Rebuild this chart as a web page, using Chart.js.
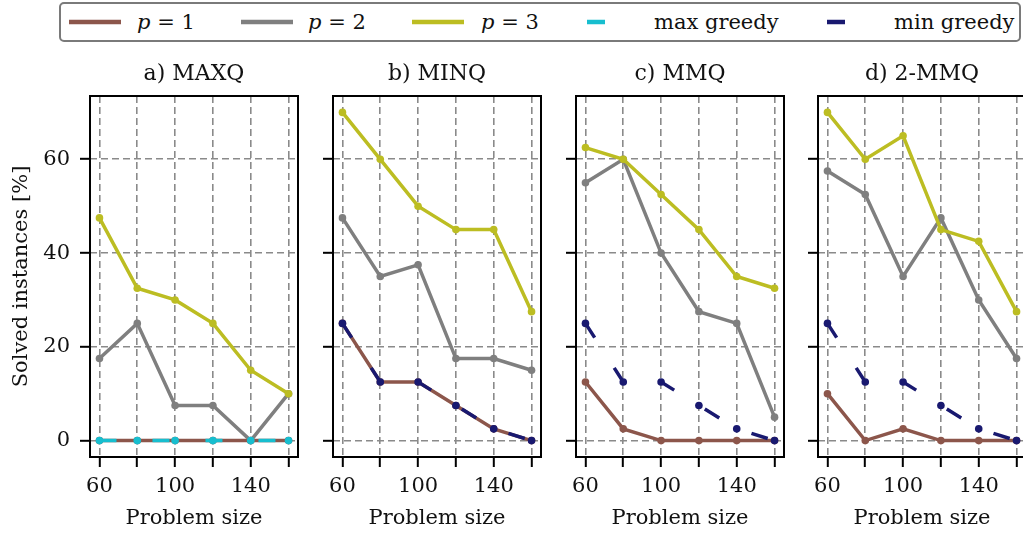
<!DOCTYPE html>
<html>
<head>
<meta charset="utf-8">
<script src="https://cdn.jsdelivr.net/npm/chart.js@4.4.1/dist/chart.umd.min.js"></script>
<style>
  html, body { margin: 0; padding: 0; background: #fff; }
  body { position: relative; width: 1023px; height: 537px; overflow: hidden; font-family: "DejaVu Serif", serif; }
  canvas { position: absolute; top: 50px; }
  #legend { position: absolute; left: 59px; top: 2px; width: 958px; height: 36px; border: 2px solid #7a7a7a; border-radius: 5px; }
  .lg-line { position: absolute; top: 0; }
  .lg-text { position: absolute; top: 6px; font-size: 21px; line-height: 24px; color: #111; white-space: nowrap; }
</style>
</head>
<body>
<div id="legend"></div>
<canvas id="c0" width="388" height="487" style="left:0px"></canvas>
<canvas id="c1" width="248" height="487" style="left:313px"></canvas>
<canvas id="c2" width="248" height="487" style="left:556px"></canvas>
<canvas id="c3" width="248" height="487" style="left:798px"></canvas>
<script>
const sizes = [60, 80, 100, 120, 140, 160];
const xLabelTicks = [60, 100, 140];
const yTicks = [0, 20, 40, 60];
const panelTitles = ['a) MAXQ', 'b) MINQ', 'c) MMQ', 'd) 2-MMQ'];

// a) MAXQ
const maxqP1 = [0, 0, 0, 0, 0, 0];
const maxqP2 = [17.5, 25, 7.5, 7.5, 0, 10];
const maxqP3 = [47.5, 32.5, 30, 25, 15, 10];
const maxqMaxGreedy = [0, 0, 0, 0, 0, 0];
// b) MINQ
const minqP1 = [25, 12.5, 12.5, 7.5, 2.5, 0];
const minqP2 = [47.5, 35, 37.5, 17.5, 17.5, 15];
const minqP3 = [70, 60, 50, 45, 45, 27.5];
const minqMinGreedy = [25, 12.5, 12.5, 7.5, 2.5, 0];
// c) MMQ
const mmqP1 = [12.5, 2.5, 0, 0, 0, 0];
const mmqP2 = [55, 60, 40, 27.5, 25, 5];
const mmqP3 = [62.5, 60, 52.5, 45, 35, 32.5];
const mmqMinGreedy = [25, 12.5, 12.5, 7.5, 2.5, 0];
// d) 2-MMQ
const mmq2P1 = [10, 0, 2.5, 0, 0, 0];
const mmq2P2 = [57.5, 52.5, 35, 47.5, 30, 17.5];
const mmq2P3 = [70, 60, 65, 45, 42.5, 27.5];
const mmq2MinGreedy = [25, 12.5, 12.5, 7.5, 2.5, 0];

const FONT = '"DejaVu Serif", serif';
const FS = 21;
const colors = {
  p1: '#8c564b',
  p2: '#7f7f7f',
  p3: '#bcbd22',
  maxGreedy: '#17becf',
  minGreedy: '#191970'
};
const greedyDash = [17, 36];

function series(label, values, color, dashed, order) {
  return {
    label: label,
    data: sizes.map((x, i) => ({x: x, y: values[i]})),
    borderColor: color,
    backgroundColor: color,
    borderWidth: 3.5,
    borderDash: dashed ? greedyDash : [],
    pointRadius: 3.8,
    pointBorderWidth: 0,
    pointBackgroundColor: color,
    tension: 0,
    order: order
  };
}

const panels = [
  [series('p = 1', maxqP1, colors.p1, false, 4), series('p = 2', maxqP2, colors.p2, false, 3),
   series('p = 3', maxqP3, colors.p3, false, 2), series('max greedy', maxqMaxGreedy, colors.maxGreedy, true, 1)],
  [series('p = 1', minqP1, colors.p1, false, 4), series('p = 2', minqP2, colors.p2, false, 3),
   series('p = 3', minqP3, colors.p3, false, 2), series('min greedy', minqMinGreedy, colors.minGreedy, true, 0)],
  [series('p = 1', mmqP1, colors.p1, false, 4), series('p = 2', mmqP2, colors.p2, false, 3),
   series('p = 3', mmqP3, colors.p3, false, 2), series('min greedy', mmqMinGreedy, colors.minGreedy, true, 0)],
  [series('p = 1', mmq2P1, colors.p1, false, 4), series('p = 2', mmq2P2, colors.p2, false, 3),
   series('p = 3', mmq2P3, colors.p3, false, 2), series('min greedy', mmq2MinGreedy, colors.minGreedy, true, 0)]
];

// full black frame around every panel
const framePlugin = {
  id: 'frame',
  afterDraw(chart) {
    const a = chart.chartArea, c = chart.ctx;
    c.save();
    c.strokeStyle = '#000';
    c.lineWidth = 2;
    c.setLineDash([]);
    c.strokeRect(a.left, a.top, a.right - a.left, a.bottom - a.top);
    c.restore();
  }
};

const gridStyle = {
  color: '#8a8a8a',
  lineWidth: 1.6,
  tickColor: '#000',
  tickWidth: 2,
  tickLength: 10
};

panels.forEach((datasets, k) => {
  const first = k === 0;
  const axisW = first ? 90 : 20;
  new Chart(document.getElementById('c' + k), {
    type: 'line',
    data: {datasets: datasets},
    plugins: [framePlugin],
    options: {
      responsive: false,
      animation: false,
      layout: {padding: 0},
      plugins: {
        legend: {display: false},
        tooltip: {enabled: false},
        title: {
          display: true,
          text: panelTitles[k],
          color: '#111',
          font: {family: FONT, size: 22, weight: 'normal', lineHeight: 1},
          padding: {top: 13, bottom: 11}
        }
      },
      scales: {
        x: {
          type: 'linear',
          min: 55,
          max: 165,
          afterBuildTicks(s) { s.ticks = sizes.map(v => ({value: v})); },
          afterFit(s) { s.height = 80; },
          grid: gridStyle,
          border: {display: false, dash: [7, 4]},
          ticks: {
            color: '#111',
            padding: 9,
            maxRotation: 0,
            autoSkip: false,
            font: {family: FONT, size: FS, lineHeight: 1},
            callback: v => xLabelTicks.includes(v) ? String(v) : ''
          },
          title: {
            display: true,
            text: 'Problem size',
            color: '#111',
            font: {family: FONT, size: FS, lineHeight: 1},
            padding: {top: 0, bottom: 8}
          }
        },
        y: {
          min: -3.5,
          max: 73.5,
          afterBuildTicks(s) { s.ticks = yTicks.map(v => ({value: v})); },
          afterFit(s) { s.width = axisW; },
          grid: gridStyle,
          border: {display: false, dash: [7, 4]},
          ticks: {
            color: '#111',
            padding: 10,
            font: {family: FONT, size: FS, lineHeight: 1},
            callback: v => first ? String(v) : ''
          },
          title: {
            display: first,
            text: 'Solved instances [%]',
            color: '#111',
            font: {family: FONT, size: FS, lineHeight: 1},
            padding: {top: 11, bottom: 0}
          }
        },
        // empty spacer on the right so the panel title centres over the plot
        yR: {
          position: 'right',
          min: -3.5,
          max: 73.5,
          afterFit(s) { s.width = axisW; },
          grid: {display: false},
          border: {display: false},
          ticks: {display: false}
        }
      }
    }
  });
});

// shared legend across the four panels
const legendItems = [
  {html: '<i>p</i> = 1', color: colors.p1, dashed: false, lineX: 8, textX: 76},
  {html: '<i>p</i> = 2', color: colors.p2, dashed: false, lineX: 180, textX: 247},
  {html: '<i>p</i> = 3', color: colors.p3, dashed: false, lineX: 351, textX: 420},
  {html: 'max greedy', color: colors.maxGreedy, dashed: true, lineX: 509, textX: 593},
  {html: 'min greedy', color: colors.minGreedy, dashed: true, lineX: 749, textX: 833}
];
const legend = document.getElementById('legend');
legendItems.forEach(it => {
  const dash = it.dashed ? 'stroke-dasharray="18 34" stroke-dashoffset="-17"' : '';
  legend.insertAdjacentHTML('beforeend',
    '<svg class="lg-line" style="left:' + it.lineX + 'px" width="52" height="36">' +
    '<line x1="0" y1="18" x2="52" y2="18" stroke="' + it.color + '" stroke-width="4.5" ' + dash + '/></svg>' +
    '<span class="lg-text" style="left:' + it.textX + 'px">' + it.html + '</span>');
});
</script>
</body>
</html>
